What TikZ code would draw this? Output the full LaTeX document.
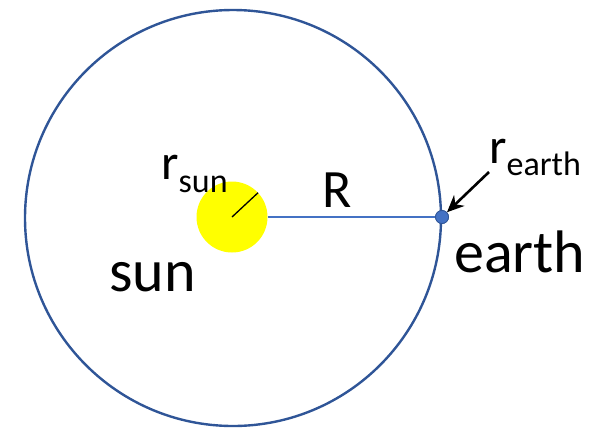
\documentclass[tikz,border=0pt]{standalone}
\usepackage{fontspec}
\setmainfont{Carlito}
\usetikzlibrary{arrows.meta}
\definecolor{orbitblue}{HTML}{2F5597}
\definecolor{lineblue}{HTML}{4472C4}
\definecolor{sunyellow}{HTML}{FFFF00}
\tikzset{
  lbl/.style={inner sep=0pt, anchor=base west, text=black},
  bigfont/.style={font=\fontsize{60}{72}\selectfont},
  midfont/.style={font=\fontsize{50}{60}\selectfont},
}
\newcommand{\subtxt}[2]{\raisebox{-#1pt}{\fontsize{34}{40}\selectfont #2}}
\begin{document}
\begin{tikzpicture}[x=1pt,y=-1pt]
\useasboundingbox (0,0) rectangle (604,429);
\node[circle, draw=orbitblue, line width=2.4pt, minimum size=416pt, inner sep=0pt] (orbit) at (233,218) {};
\node[circle, fill=sunyellow, minimum size=71pt, inner sep=0pt] (sun) at (232,217) {};
\draw[black, line width=1.3pt] (sun.center) -- (sun.43);
\node[circle, fill=lineblue, draw=orbitblue, line width=0.8pt, minimum size=13pt, inner sep=0pt] (earth) at (442,217) {};
\draw[lineblue, line width=1.3pt] (sun.east) -- (earth.center);
\node[circle, fill=lineblue, draw=orbitblue, line width=0.8pt, minimum size=13pt, inner sep=0pt] at (earth) {};
\coordinate (atail) at (489,172);
\draw[black, line width=2.6pt, -{Stealth[length=17pt,width=15pt]}] (atail) -- (earth);
\node[lbl, midfont] (rsun) at (161,179) {r\subtxt{13}{sun}};
\node[lbl, font=\fontsize{54}{64}\selectfont] (R) at (322,207) {R};
\node[lbl, bigfont] (sunlbl) at (109,291) {sun};
\node[lbl, bigfont] (earthlbl) at (454,272) {earth};
\node[lbl, midfont] (rearth) at (489,163) {r\subtxt{12}{earth}};
\end{tikzpicture}
\end{document}
